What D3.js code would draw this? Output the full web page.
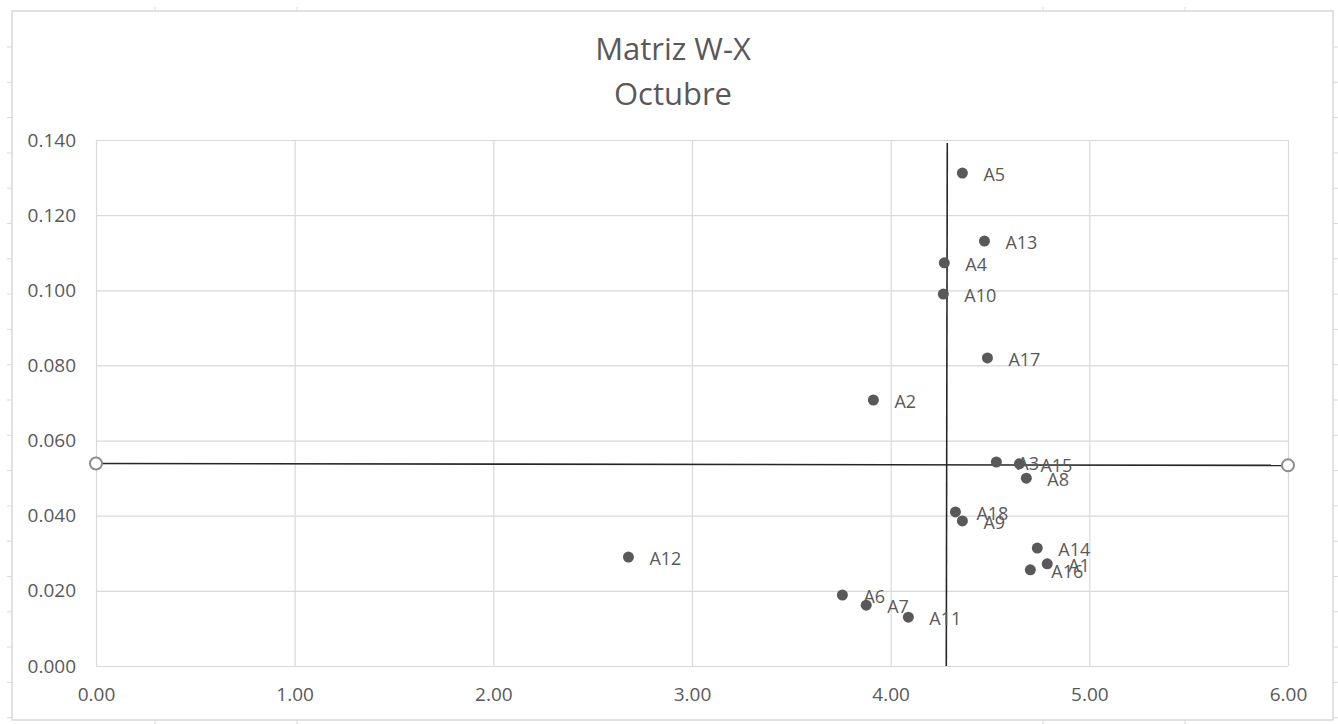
<!DOCTYPE html>
<html><head><meta charset="utf-8">
<script src="https://cdn.jsdelivr.net/npm/d3@7"></script>
<style>
html,body{margin:0;padding:0;background:#fff;}
text{font-family:"Open Sans",sans-serif;}
</style></head>
<body>
<svg id="chart" width="1338" height="724"></svg>
<script>
const titleLines = ["Matriz W-X", "Octubre"];
const pointLabels = ["A5","A13","A4","A10","A17","A2","A3","A15","A8","A18","A9","A14","A1","A16","A12","A6","A7","A11"];
const xValues = [4.361,4.472,4.270,4.265,4.487,3.913,4.532,4.648,4.683,4.326,4.361,4.738,4.788,4.703,2.680,3.757,3.877,4.089];
const yValues = [0.1312,0.1131,0.1073,0.0990,0.0820,0.0708,0.0543,0.0538,0.0500,0.0410,0.0386,0.0314,0.0272,0.0256,0.0290,0.0189,0.0162,0.0130];
const xTicks = [0,1,2,3,4,5,6];
const yTicks = [0,0.02,0.04,0.06,0.08,0.10,0.12,0.14];
const hLineX = [0, 6];
const hLineY = [0.0539, 0.0534];
const vLineX = [4.285, 4.280];
const vLineY = [0.1392, 0];

const svg = d3.select("#chart");
const plot = {left: 96, right: 1288, top: 140, bottom: 666};
const x = d3.scaleLinear().domain([0, 6]).range([plot.left, plot.right]);
const y = d3.scaleLinear().domain([0, 0.14]).range([plot.bottom, plot.top]);

// outer frame (spreadsheet-like)
const frame = {l: 12, r: 1333, t: 11, b: 720};
svg.append("rect").attr("x", frame.l).attr("y", frame.t)
  .attr("width", frame.r - frame.l).attr("height", frame.b - frame.t)
  .attr("fill", "#fff").attr("stroke", "#d9d9d9").attr("stroke-width", 1.5);
const sideTicks = d3.range(47, 720, 35.3);
svg.append("g").selectAll("line").data(sideTicks).join("line")
  .attr("x1", frame.l - 5).attr("x2", frame.l).attr("y1", d => d).attr("y2", d => d)
  .attr("stroke", "#d9d9d9");
svg.append("g").selectAll("line").data(sideTicks).join("line")
  .attr("x1", frame.r).attr("x2", frame.r + 5).attr("y1", d => d).attr("y2", d => d)
  .attr("stroke", "#d9d9d9");
const colTicks = [155, 297, 1043, 1185];
svg.append("g").selectAll("line").data(colTicks).join("line")
  .attr("x1", d => d).attr("x2", d => d).attr("y1", frame.t - 4).attr("y2", frame.t)
  .attr("stroke", "#d9d9d9");
svg.append("g").selectAll("line").data(colTicks).join("line")
  .attr("x1", d => d).attr("x2", d => d).attr("y1", frame.b).attr("y2", frame.b + 4)
  .attr("stroke", "#d9d9d9");

// gridlines via axes
const gx = svg.append("g").attr("transform", `translate(0,${plot.bottom})`)
  .call(d3.axisBottom(x).tickValues(xTicks).tickSize(-(plot.bottom - plot.top)).tickFormat(d3.format(".2f")).tickPadding(28));
gx.select(".domain").remove();
gx.selectAll("line").attr("stroke", "#d9d9d9").attr("stroke-width", 1.2);
gx.selectAll("text").attr("fill", "#595959").style("font-size", "19px").attr("dy", "0.35em");

const gy = svg.append("g").attr("transform", `translate(${plot.left},0)`)
  .call(d3.axisLeft(y).tickValues(yTicks).tickSize(-(plot.right - plot.left)).tickFormat(d3.format(".3f")).tickPadding(20));
gy.select(".domain").remove();
gy.selectAll("line").attr("stroke", "#d9d9d9").attr("stroke-width", 1.2);
gy.selectAll("text").attr("fill", "#595959").style("font-size", "19px");

// title
const title = svg.append("text").attr("x", 673).attr("text-anchor", "middle")
  .attr("fill", "#595959").style("font-size", "31px");
titleLines.forEach((t, i) => {
  title.append("tspan").attr("x", 673).attr("y", 49 + i * 45).attr("dy", "0.35em").text(t);
});

// reference lines
const line = d3.line().x(d => x(d[0])).y(d => y(d[1]));
svg.append("path").datum(hLineX.map((v, i) => [v, hLineY[i]]))
  .attr("d", line).attr("fill", "none").attr("stroke", "#262626").attr("stroke-width", 1.6);
svg.append("path").datum(vLineX.map((v, i) => [v, vLineY[i]]))
  .attr("d", line).attr("fill", "none").attr("stroke", "#262626").attr("stroke-width", 1.6);
svg.append("g").selectAll("circle").data(hLineX.map((v, i) => [v, hLineY[i]])).join("circle")
  .attr("cx", d => x(d[0])).attr("cy", d => y(d[1])).attr("r", 6)
  .attr("fill", "#fff").attr("stroke", "#8c8c8c").attr("stroke-width", 2);

// points
const pts = pointLabels.map((l, i) => ({label: l, x: xValues[i], y: yValues[i]}));
svg.append("g").selectAll("circle").data(pts).join("circle")
  .attr("cx", d => x(d.x)).attr("cy", d => y(d.y)).attr("r", 5.5)
  .attr("fill", "#595959");
svg.append("g").selectAll("text").data(pts).join("text")
  .attr("x", d => x(d.x) + 21).attr("y", d => y(d.y) + 2).attr("dy", "0.35em")
  .attr("fill", "#595959").style("font-size", "18px").text(d => d.label);
</script>
</body></html>
